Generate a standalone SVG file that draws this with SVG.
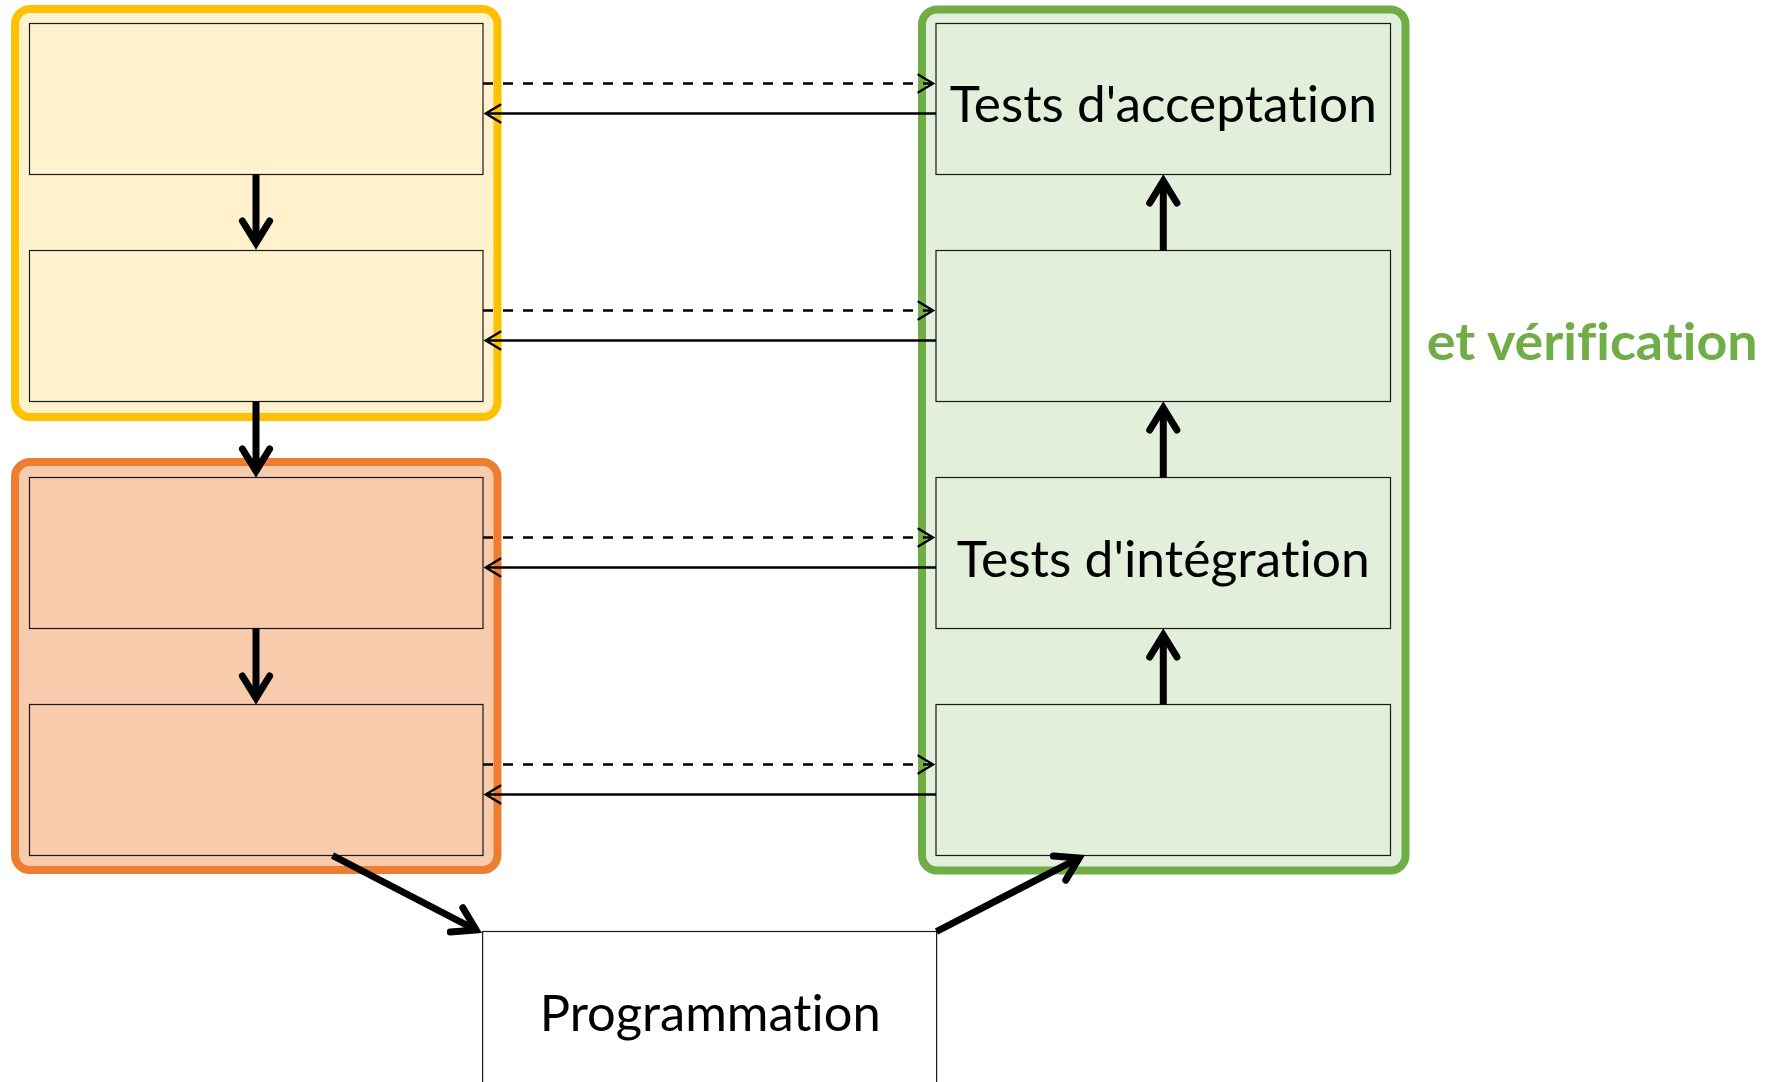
<svg xmlns="http://www.w3.org/2000/svg" width="1766" height="1082" viewBox="0 0 1766 1082">
  <style>
    .box { stroke: #1a1a1a; stroke-width: 1.2; }
    .yellow { fill: #FFF2CC; }
    .orange { fill: #F8CBAD; }
    .green { fill: #E2EFDA; }
    .frame { stroke-width: 8; }
    .label { font-family: Lato, "Liberation Sans", sans-serif; font-size: 51px; fill: #000; text-anchor: middle; font-variant-ligatures: none; font-feature-settings: "liga" 0, "dlig" 0; }
    .side { font-family: Lato, "Liberation Sans", sans-serif; font-size: 51px; font-weight: bold; fill: #70AD47; font-variant-ligatures: none; font-feature-settings: "liga" 0, "dlig" 0; }
    .thin { stroke: #000; stroke-width: 2.4; fill: none; }
    .dash { stroke-dasharray: 10 10; }
    .thick { stroke: #000; stroke-width: 7; fill: none; }
  </style>
  <defs>
    <marker id="tip-thin" markerUnits="userSpaceOnUse" viewBox="-30 -20 40 40" markerWidth="40" markerHeight="40" refX="0" refY="0" orient="auto">
      <path d="M-14.5,-8.8 L0,0 L-14.5,8.8" fill="none" stroke="#000" stroke-width="2.4" stroke-linecap="round" stroke-linejoin="miter"/>
    </marker>
    <marker id="tip-thick" markerUnits="userSpaceOnUse" viewBox="-40 -30 60 60" markerWidth="60" markerHeight="60" refX="0" refY="0" orient="auto">
      <path d="M-22,-13.6 L0,0 L-22,13.6" fill="none" stroke="#000" stroke-width="7" stroke-linecap="round" stroke-linejoin="miter"/>
    </marker>
  </defs>

  <!-- Specification phases (yellow block) -->
  <g id="phase-spec">
    <rect x="15" y="9" width="482.5" height="408" rx="15" class="yellow frame" stroke="#FFC000"/>
  </g>
  <!-- Design phases (orange block) -->
  <g id="phase-design">
    <rect x="15" y="462" width="482.5" height="408" rx="15" class="orange frame" stroke="#ED7D31"/>
  </g>
  <!-- Test phases (green block) -->
  <g id="phase-tests">
    <rect x="922" y="9.5" width="483.5" height="861" rx="15" class="green frame" stroke="#70AD47"/>
  </g>

  <!-- Left column -->
  <g id="box-l1"><rect x="29.5" y="23.5" width="453.5" height="151" class="box yellow"/></g>
  <g id="box-l2"><rect x="29.5" y="250.5" width="453.5" height="151" class="box yellow"/></g>
  <g id="box-l3"><rect x="29.5" y="477.5" width="453.5" height="151" class="box orange"/></g>
  <g id="box-l4"><rect x="29.5" y="704.5" width="453.5" height="151" class="box orange"/></g>

  <!-- Right column -->
  <g id="box-r1">
    <rect x="936" y="23.5" width="454.5" height="151" class="box green"/>
    <text x="1163.3" y="122.3" class="label" textLength="427" lengthAdjust="spacingAndGlyphs">Tests d'acceptation</text>
  </g>
  <g id="box-r2"><rect x="936" y="250.5" width="454.5" height="151" class="box green"/></g>
  <g id="box-r3">
    <rect x="936" y="477.5" width="454.5" height="151" class="box green"/>
    <text x="1163.3" y="576.5" class="label" textLength="413" lengthAdjust="spacingAndGlyphs">Tests d'intégration</text>
  </g>
  <g id="box-r4"><rect x="936" y="704.5" width="454.5" height="151" class="box green"/></g>

  <!-- Coding step at the bottom -->
  <g id="box-prog">
    <rect x="482.6" y="931.5" width="454" height="200" class="box" fill="#fff"/>
    <text x="710.2" y="1030.7" class="label" textLength="341" lengthAdjust="spacingAndGlyphs">Programmation</text>
  </g>

  <!-- Side caption -->
  <g id="caption">
    <text x="1426.7" y="360" class="side" textLength="331" lengthAdjust="spacingAndGlyphs">et vérification</text>
  </g>

  <g id="connectors">
    <!-- left to right (dashed) and right to left (solid) links per level -->
    <path class="thin dash" d="M483,83.5 H933" marker-end="url(#tip-thin)"/>
    <path class="thin" d="M936,113.5 H485.8" marker-end="url(#tip-thin)"/>
    <path class="thin dash" d="M483,310.5 H933" marker-end="url(#tip-thin)"/>
    <path class="thin" d="M936,340.5 H485.8" marker-end="url(#tip-thin)"/>
    <path class="thin dash" d="M483,537.5 H933" marker-end="url(#tip-thin)"/>
    <path class="thin" d="M936,567.5 H485.8" marker-end="url(#tip-thin)"/>
    <path class="thin dash" d="M483,764.5 H933" marker-end="url(#tip-thin)"/>
    <path class="thin" d="M936,794.5 H485.8" marker-end="url(#tip-thin)"/>

    <!-- descending chain -->
    <path class="thick" d="M256,174.5 V243" marker-end="url(#tip-thick)"/>
    <path class="thick" d="M256,401.5 V471" marker-end="url(#tip-thick)"/>
    <path class="thick" d="M256,628.5 V698" marker-end="url(#tip-thick)"/>

    <!-- ascending chain -->
    <path class="thick" d="M1163.3,704.5 V635" marker-end="url(#tip-thick)"/>
    <path class="thick" d="M1163.3,477.5 V408" marker-end="url(#tip-thick)"/>
    <path class="thick" d="M1163.3,250.5 V181" marker-end="url(#tip-thick)"/>

    <!-- into and out of the coding step -->
    <path class="thick" d="M332.5,855.5 L476.1,930" marker-end="url(#tip-thick)"/>
    <path class="thick" d="M936.5,931.5 L1079.1,858" marker-end="url(#tip-thick)"/>
  </g>
</svg>
